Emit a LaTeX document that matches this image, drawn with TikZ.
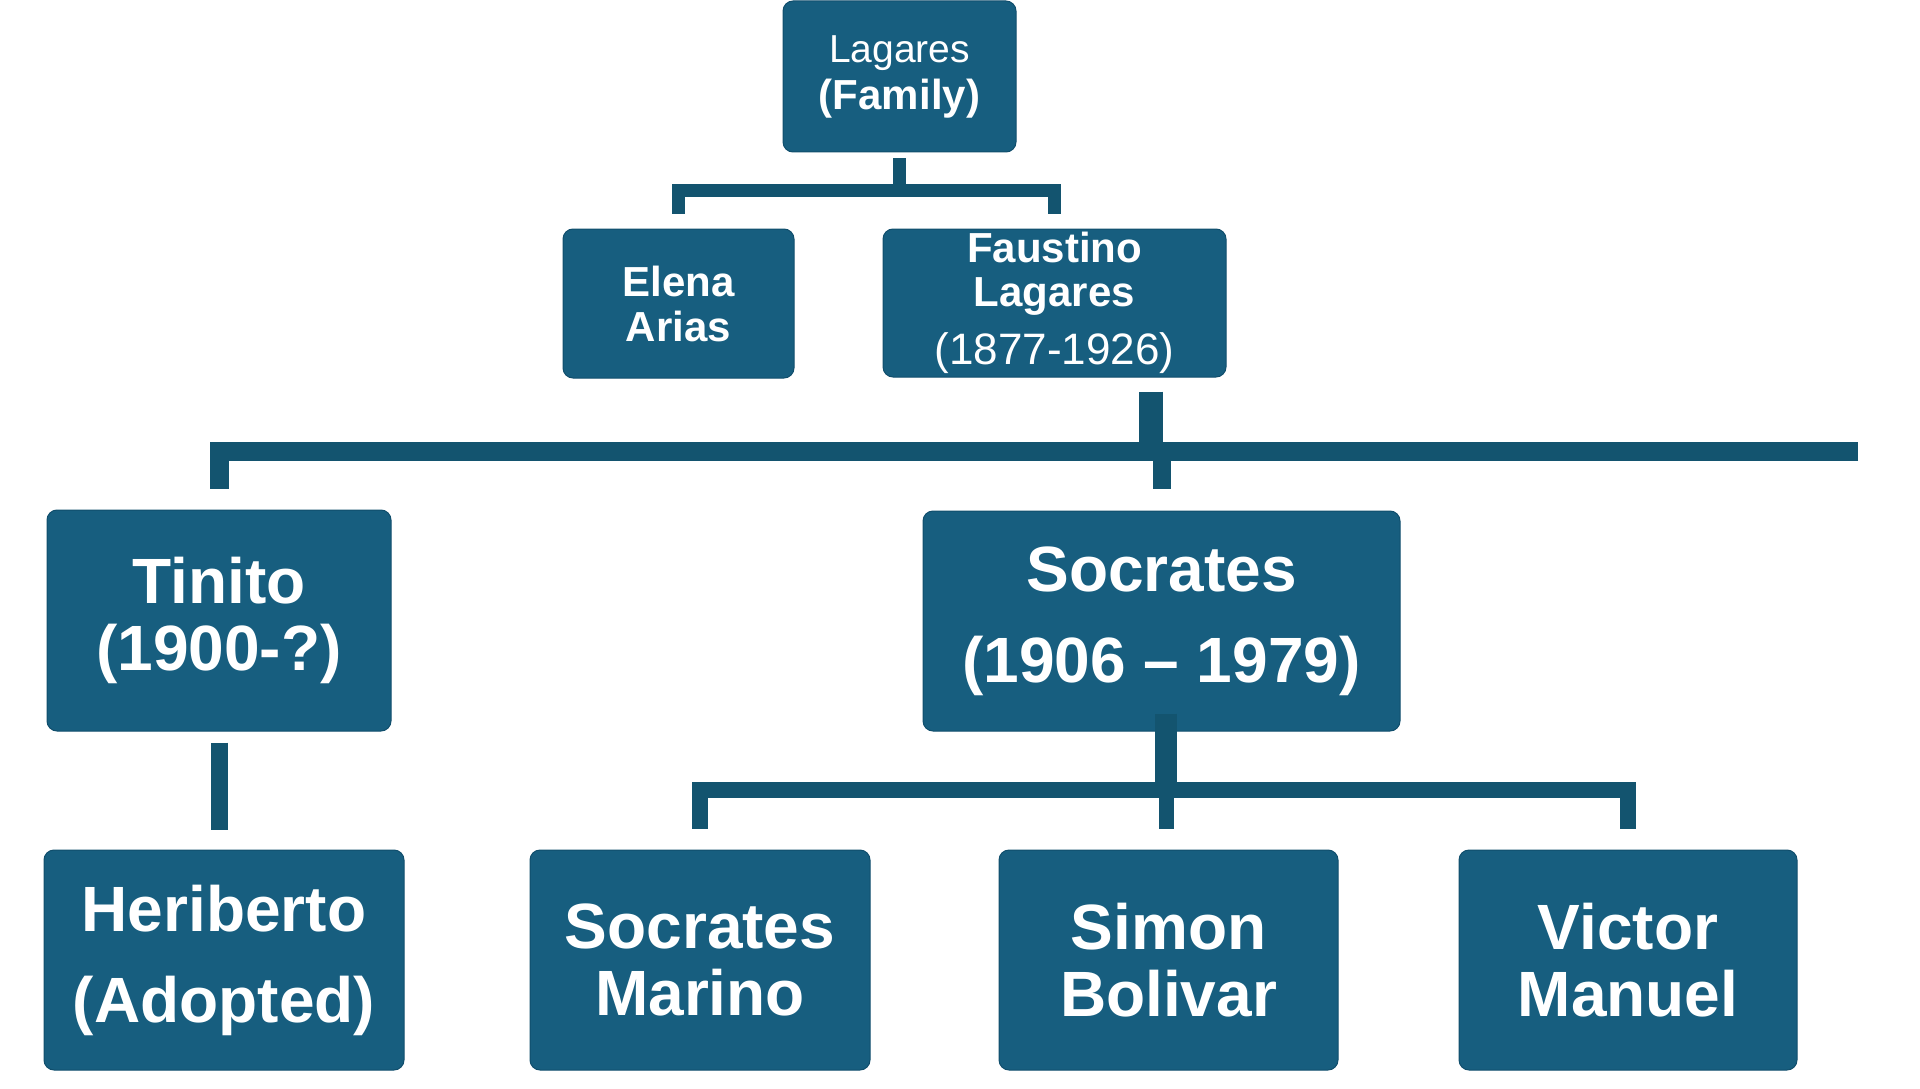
\documentclass[tikz,border=0pt]{standalone}
\usepackage{fontspec}
\setmainfont{Liberation Sans}
\usepackage{xcolor}
\usepackage{tikz}
\usetikzlibrary{calc, positioning}

\definecolor{boxblue}{RGB}{23,94,127}
\definecolor{boxline}{RGB}{16,78,108}
\definecolor{linkblue}{RGB}{19,84,111}

\begin{document}
\begin{tikzpicture}[x=1pt, y=-1pt,
    person/.style={draw=boxline, line width=1pt, fill=boxblue, rounded corners=10pt,
        text=white, align=center, inner sep=0pt},
    bigname/.style={font=\bfseries\fontsize{64}{67}\selectfont},
    thinlink/.style={draw=linkblue, line width=13pt},
    barlink/.style={draw=linkblue, line width=19pt},
    lowlink/.style={draw=linkblue, line width=16pt}]
            \useasboundingbox (0,0) rectangle (1920,1089);

            % Hàng trên cùng
            \node[person, minimum width=233pt, minimum height=151pt, font=\bfseries\fontsize{42}{47}\selectfont]
                (lagares) at (899.5,76.5) {{\mdseries\fontsize{39}{47}\selectfont Lagares}\\(Family)};
            \node[person, minimum width=231pt, minimum height=149pt, font=\bfseries\fontsize{42}{45}\selectfont]
                (elena) at (678.5,303.5) {Elena\\Arias};
            \node[person, minimum width=343pt, minimum height=148pt, font=\bfseries\fontsize{42}{44}\selectfont]
                (faustino) at (1054.5,303) {Faustino\\Lagares\\[14pt]{\mdseries\fontsize{44}{44}\selectfont(1877-1926)}};

            % Hàng giữa
            \node[person, bigname, minimum width=344pt, minimum height=221pt]
                (tinito) at (219,620.5) {Tinito\\(1900-?)};
            \node[person, bigname, minimum width=477pt, minimum height=220pt, font=\bfseries\fontsize{64}{91}\selectfont]
                (socrates) at (1161.5,621) {Socrates\\(1906 – 1979)};

            % Hàng dưới cùng
            \node[person, bigname, minimum width=360pt, minimum height=220pt, font=\bfseries\fontsize{64}{91}\selectfont]
                (heriberto) at (224,960) {Heriberto\\(Adopted)};
            \node[person, bigname, minimum width=340pt, minimum height=220pt]
                (marino) at (700,960) {Socrates\\Marino};
            \node[person, bigname, minimum width=339pt, minimum height=220pt]
                (simon) at (1168.5,960) {Simon\\Bolivar};
            \node[person, bigname, minimum width=338pt, minimum height=220pt]
                (victor) at (1628,960) {Victor\\Manuel};

            % Các điểm nối
            \coordinate (topbar) at (899.5,190.5);
            \coordinate (midbar) at (1151,451);
            \coordinate (barend) at (1858,451);
            \coordinate (lowbar) at (1166,790);

            % Nối Lagares với Elena và Faustino
            \draw[thinlink, shorten <=6pt] (lagares.south) -- (topbar);
            \draw[thinlink, shorten >=15pt] (topbar) -| (elena.north);
            \draw[thinlink, shorten >=15pt] (topbar) -| (faustino.north);

            % Nối Faustino với các con
            \draw[thinlink, line width=24pt, shorten <=14pt] (faustino.south -| midbar) -- (midbar);
            \draw[barlink, shorten >=21pt] (barend) -| (tinito.north);
            \draw[barlink, line width=18pt, shorten >=22pt] (socrates.north |- midbar) -- (socrates.north);

            % Nối Tinito với Heriberto
            \draw[barlink, line width=17pt, shorten <=11pt, shorten >=20pt] (tinito.south) -- (tinito.south |- heriberto.north);

            % Nối Socrates với các con
            \draw[lowlink, line width=22pt, shorten <=-18pt] (socrates.south -| lowbar) -- (lowbar);
            \draw[lowlink, shorten >=21pt] (lowbar) -| (marino.north);
            \draw[lowlink, shorten >=21pt] (lowbar) -| (victor.north);
            \draw[lowlink, line width=15pt, shorten >=21pt] (lowbar) -- (lowbar |- simon.north);
        \end{tikzpicture}
\end{document}
